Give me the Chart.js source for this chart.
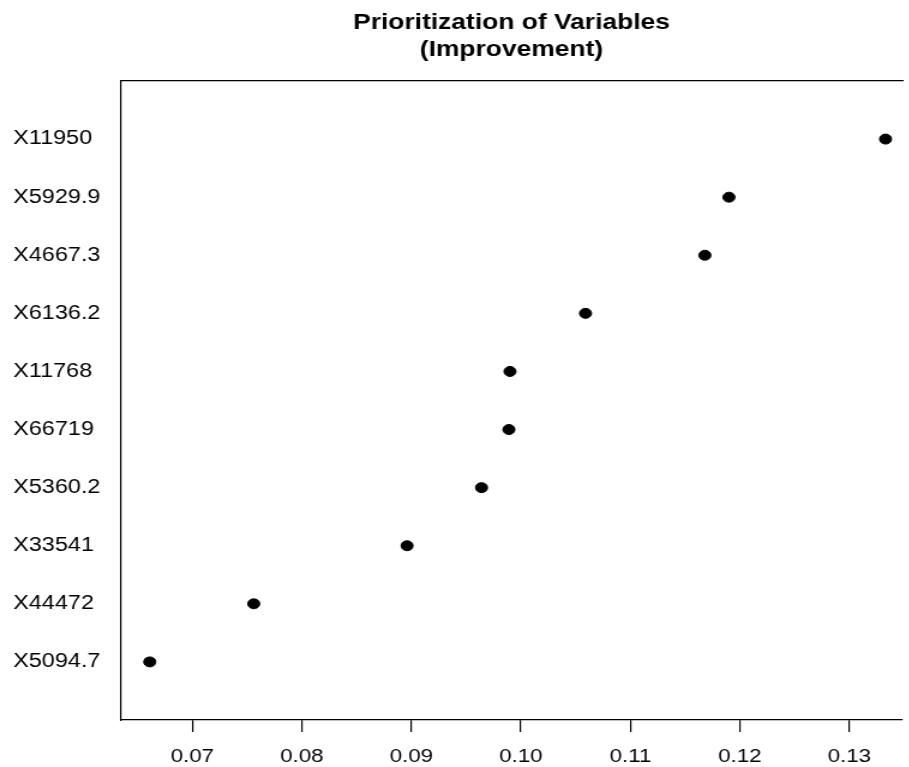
<!DOCTYPE html>
<html>
<head>
<meta charset="utf-8">
<script src="https://cdn.jsdelivr.net/npm/chart.js@4"></script>
<style>
    html, body { margin: 0; padding: 0; background: #fff; }
    /* the plot is drawn narrow and widened, which gives the wide lettering and oval dots */
    #wrap { width: 758px; height: 767px; transform: scaleX(1.2); transform-origin: 0 0; }
</style>
</head>
<body>
<div id="wrap"><canvas id="dotChart" width="758" height="767"></canvas></div>
<script>
// Variables, top row first
const variables = ['X11950', 'X5929.9', 'X4667.3', 'X6136.2', 'X11768', 'X66719', 'X5360.2', 'X33541', 'X44472', 'X5094.7'];
const improvement = [0.1333, 0.1190, 0.1168, 0.1059, 0.0990, 0.0989, 0.0964, 0.0896, 0.0756, 0.0661];
const xTicks = [0.07, 0.08, 0.09, 0.10, 0.11, 0.12, 0.13];
const titleLines = ['Prioritization of Variables', '(Improvement)'];

document.addEventListener('DOMContentLoaded', () => {
    const ctx = document.getElementById('dotChart').getContext('2d');

    // Two-line bold title centred over the plot box
    const plotTitle = {
        id: 'plotTitle',
        afterDraw(chart) {
            const { ctx, chartArea } = chart;
            const cx = (chartArea.left + chartArea.right) / 2;
            ctx.save();
            ctx.fillStyle = '#000';
            ctx.font = 'bold 22px "Liberation Sans", Arial, sans-serif';
            ctx.textAlign = 'center';
            ctx.textBaseline = 'alphabetic';
            ctx.fillText(titleLines[0], cx, 29);
            ctx.fillText(titleLines[1], cx, 56);
            ctx.restore();
        }
    };

    new Chart(ctx, {
        type: 'scatter',
        data: {
            datasets: [{
                data: variables.map((v, i) => ({ x: improvement[i], y: i + 1 })),
                backgroundColor: '#000',
                borderColor: '#000',
                pointRadius: 5,
                pointHoverRadius: 5
            }]
        },
        options: {
            responsive: false,
            animation: false,
            layout: { padding: { left: 11, top: 81, right: 0, bottom: 0 } },
            plugins: {
                legend: { display: false },
                tooltip: { enabled: false }
            },
            scales: {
                x: {
                    type: 'linear',
                    min: 0.06344,
                    max: 0.13484,
                    afterBuildTicks: scale => { scale.ticks = xTicks.map(v => ({ value: v })); },
                    afterFit: scale => { scale.height = 47; },
                    grid: { drawOnChartArea: false, drawTicks: true, tickLength: 12, color: '#000', lineWidth: 1.2 },
                    border: { display: true, color: '#000', width: 1.3 },
                    ticks: {
                        color: '#000',
                        padding: 14,
                        maxRotation: 0,
                        font: { family: '"Liberation Sans", Arial, sans-serif', size: 18.6 },
                        callback: v => v.toFixed(2)
                    }
                },
                xTop: {
                    type: 'linear',
                    position: 'top',
                    afterFit: scale => { scale.height = 0; },
                    grid: { display: false },
                    border: { display: true, color: '#000', width: 1.3 },
                    ticks: { display: false }
                },
                y: {
                    type: 'linear',
                    reverse: true,
                    min: 0,
                    max: variables.length + 1,
                    afterBuildTicks: scale => { scale.ticks = variables.map((v, i) => ({ value: i + 1 })); },
                    afterFit: scale => { scale.width = 89.5; },
                    grid: { display: false },
                    border: { display: true, color: '#000', width: 1.2 },
                    ticks: {
                        color: '#000',
                        crossAlign: 'far',
                        font: { family: '"Liberation Sans", Arial, sans-serif', size: 19.5 },
                        callback: v => variables[v - 1] || ''
                    }
                }
            }
        },
        plugins: [plotTitle]
    });
});
</script>
</body>
</html>
